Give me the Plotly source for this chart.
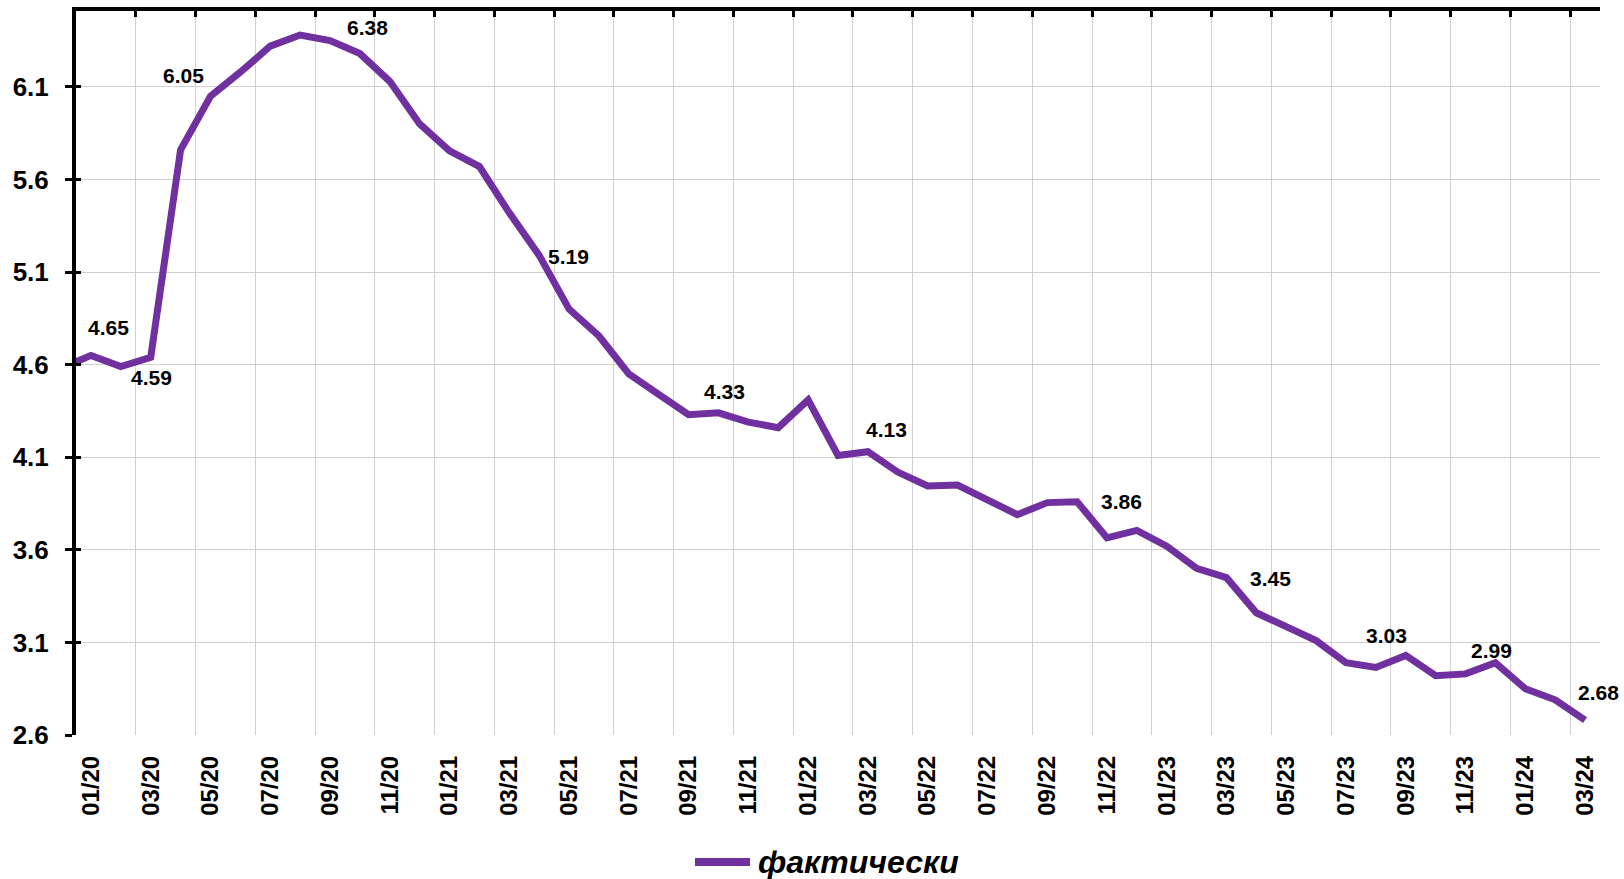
import plotly.graph_objects as go

# ---- data ----
months = ["12/19",
          "01/20", "02/20", "03/20", "04/20", "05/20", "06/20", "07/20", "08/20", "09/20", "10/20", "11/20", "12/20",
          "01/21", "02/21", "03/21", "04/21", "05/21", "06/21", "07/21", "08/21", "09/21", "10/21", "11/21", "12/21",
          "01/22", "02/22", "03/22", "04/22", "05/22", "06/22", "07/22", "08/22", "09/22", "10/22", "11/22", "12/22",
          "01/23", "02/23", "03/23", "04/23", "05/23", "06/23", "07/23", "08/23", "09/23", "10/23", "11/23", "12/23",
          "01/24", "02/24", "03/24"]
values = [4.58,
          4.65, 4.59, 4.64, 5.76, 6.05, 6.18, 6.32, 6.38, 6.35, 6.28, 6.13, 5.90,
          5.755, 5.67, 5.42, 5.19, 4.90, 4.755, 4.55, 4.44, 4.33, 4.34, 4.29, 4.26,
          4.41, 4.11, 4.13, 4.02, 3.945, 3.95, 3.87, 3.79, 3.855, 3.86, 3.665, 3.705,
          3.62, 3.50, 3.45, 3.26, 3.185, 3.11, 2.99, 2.965, 3.03, 2.92, 2.93, 2.99,
          2.85, 2.79, 2.68]
series_name = "фактически"

# months that carry a data label
label_months = ["01/20", "02/20", "05/20", "08/20", "04/21", "09/21", "03/22",
                "10/22", "03/23", "09/23", "12/23", "03/24"]
# label offsets in pixels (style only)
label_shift = [(18, 28), (31, -11), (-27, 21), (67, 8), (29, -1), (36, 23), (19, 22),
               (44, 0), (44, -1), (-19, 20), (-4, 12), (13, 28)]

y_ticks = [2.6, 3.1, 3.6, 4.1, 4.6, 5.1, 5.6, 6.1]
y_range = [2.6, 6.51]

# ---- derived ----
xs = list(range(len(months)))
first = months.index("01/20")
tick_idx = list(range(first, len(months), 2))
tick_text = [months[i] for i in tick_idx]
grid_idx = [i + 1.5 for i in tick_idx[:-1]]
x_range = [first - 0.5, len(months) - 0.5]

PURPLE = "#7030A0"
FONT = "Liberation Sans, Arial, sans-serif"
W, H = 1624, 879
ML, MR, MT, MB = 76, 24, 11, 144

fig = go.Figure()
fig.add_trace(go.Scatter(
    x=xs, y=values, mode="lines", name=series_name,
    line=dict(color=PURPLE, width=7), xaxis="x", yaxis="y",
    hoverinfo="skip", showlegend=False))
# invisible helper trace for the secondary (frame) axes
fig.add_trace(go.Scatter(
    x=xs, y=values, mode="lines", line=dict(color="rgba(0,0,0,0)", width=0),
    xaxis="x2", yaxis="y2", showlegend=False, hoverinfo="skip"))

annotations = []
for m, (dx, dy) in zip(label_months, label_shift):
    i = months.index(m)
    annotations.append(dict(
        x=xs[i], y=values[i], xref="x", yref="y", text=f"{values[i]:.2f}",
        showarrow=False, xshift=dx, yshift=dy, xanchor="center", yanchor="middle",
        font=dict(family=FONT, size=21, color="black", weight="bold")))

# manual legend (line sample + text), placed in paper space below the axis
pw = W - ML - MR
ph = H - MT - MB
leg_y = -(862 - (H - MB)) / ph
leg_x0 = (695 - ML) / pw
leg_x1 = (750 - ML) / pw
leg_tx = (756 - ML) / pw
shapes = [dict(type="line", xref="paper", yref="paper", x0=leg_x0, x1=leg_x1,
               y0=leg_y, y1=leg_y, line=dict(color=PURPLE, width=8))]
annotations.append(dict(x=leg_tx, y=leg_y, xref="paper", yref="paper", text=series_name,
                        showarrow=False, xanchor="left", yanchor="middle",
                        font=dict(family=FONT, size=32, color="black",
                                  weight="bold", style="italic")))

fig.update_layout(
    width=W, height=H, autosize=False,
    margin=dict(l=ML, r=MR, t=MT, b=MB, pad=0),
    paper_bgcolor="white", plot_bgcolor="white",
    showlegend=False,
    xaxis=dict(range=x_range, tickmode="array", tickvals=tick_idx, ticktext=tick_text,
               tickangle=-90, showgrid=False, zeroline=False, showline=False, ticks="",
               ticklabelstandoff=15, automargin=False,
               tickfont=dict(family=FONT, size=24, color="black", weight="bold")),
    xaxis2=dict(range=x_range, overlaying="x", side="top", anchor="y",
                tickmode="array", tickvals=grid_idx, showticklabels=False,
                showgrid=True, gridcolor="#d0d0d0", gridwidth=1, zeroline=False,
                showline=True, linecolor="black", linewidth=4, automargin=False,
                ticks="inside", ticklen=6, tickwidth=3, tickcolor="black"),
    yaxis=dict(range=y_range, tickmode="array", tickvals=y_ticks,
               ticktext=[f"{v:.1f}" for v in y_ticks],
               showgrid=True, gridcolor="#d0d0d0", gridwidth=1, zeroline=False,
               showline=True, linecolor="black", linewidth=4, automargin=False,
               ticks="outside", ticklen=7, tickwidth=3, tickcolor="black",
               ticklabelstandoff=11,
               tickfont=dict(family=FONT, size=26, color="black", weight="bold")),
    yaxis2=dict(range=y_range, overlaying="y", side="left", anchor="x",
                tickmode="array", tickvals=y_ticks, showticklabels=False,
                showgrid=False, zeroline=False, showline=False, automargin=False,
                ticks="inside", ticklen=5, tickwidth=3, tickcolor="black"),
    annotations=annotations,
    shapes=shapes,
)

fig.write_html("out.html", config={"displayModeBar": False},
               post_script="document.body.style.margin='0';")
